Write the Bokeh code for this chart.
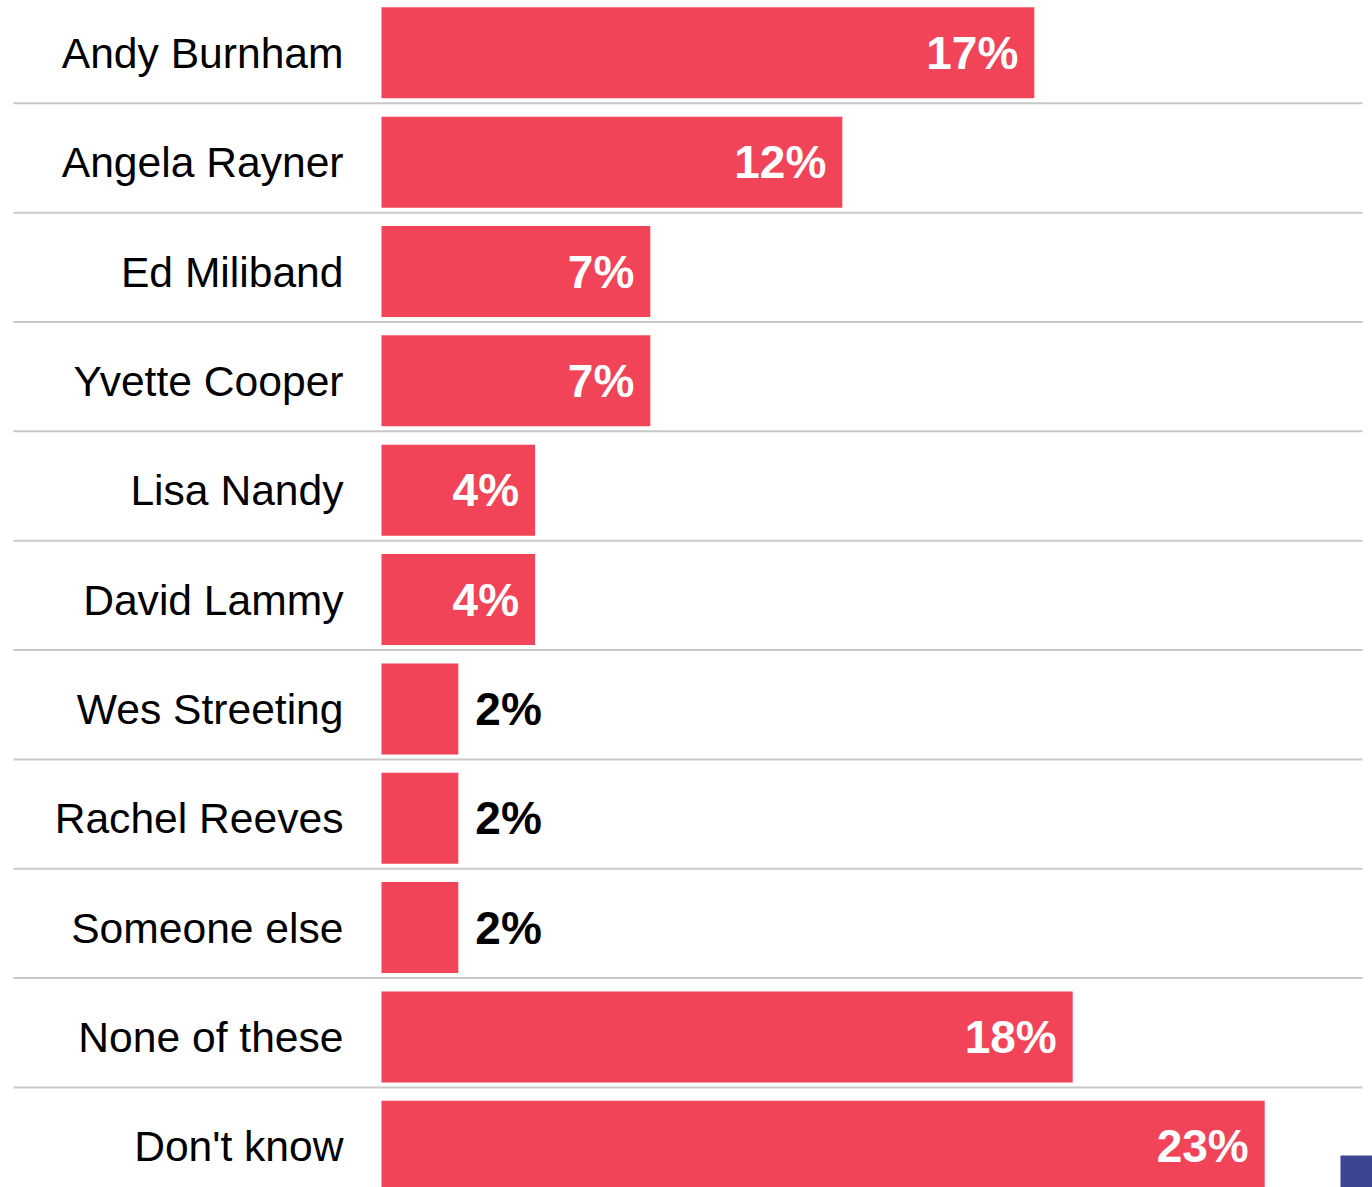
from bokeh.plotting import figure
from bokeh.models import Range1d, ColumnDataSource
from bokeh.core.properties import value
from bokeh.embed import file_html
from bokeh.resources import INLINE

# ---- data ----
candidates = ["Andy Burnham", "Angela Rayner", "Ed Miliband", "Yvette Cooper",
              "Lisa Nandy", "David Lammy", "Wes Streeting", "Rachel Reeves",
              "Someone else", "None of these", "Don't know"]
values = [17, 12, 7, 7, 4, 4, 2, 2, 2, 18, 23]

# ---- layout constants (pixels) ----
W, H = 1372, 1187
PX = 38.4          # px per percentage point
PY = 109.35        # px per row
X0_PX = 381.0      # figure px where 0% lies
Y0_PX = 52.3       # figure px of first row centre

def xd(px):
    return (px - X0_PX) / PX

def yd(py):
    return (py - Y0_PX) / PY

BAR_COLOR = "#f24458"
FONT = "Liberation Sans"

p = figure(width=W, height=H, output_backend="svg", toolbar_location=None,
           x_range=Range1d(xd(0), xd(W)), y_range=Range1d(yd(H), yd(0)),
           min_border=0, min_border_left=0, min_border_right=0,
           min_border_top=0, min_border_bottom=0)
p.xaxis.visible = False
p.yaxis.visible = False
p.grid.visible = False
p.outline_line_color = None
p.background_fill_color = "white"
p.border_fill_color = "white"

idx = list(range(len(candidates)))
src = ColumnDataSource(dict(y=idx, v=values, name=candidates))

# separators between rows
sep_y = [i + 0.462 for i in idx[:-1]]
p.segment(x0=[xd(13)] * len(sep_y), x1=[xd(1362)] * len(sep_y), y0=sep_y, y1=sep_y,
          line_color="#c8c8c8", line_width=2)

# bars
p.hbar(y="y", left=0, right="v", height=91 / PY, source=src,
       fill_color=BAR_COLOR, line_color=None)

# category labels
p.text(x=0, y="y", text="name", source=src, x_offset=-38,
       text_align="right", text_baseline="middle",
       text_font=value(FONT), text_font_size="42.6px", text_color="black")

# value labels
inside = [i for i in idx if values[i] >= 4]
outside = [i for i in idx if values[i] < 4]
src_in = ColumnDataSource(dict(y=inside, v=[values[i] for i in inside],
                               lab=[f"{values[i]}%" for i in inside]))
src_out = ColumnDataSource(dict(y=outside, v=[values[i] for i in outside],
                                lab=[f"{values[i]}%" for i in outside]))
p.text(x="v", y="y", text="lab", source=src_in, x_offset=-16,
       text_align="right", text_baseline="middle",
       text_font=value(FONT), text_font_style="bold", text_font_size="46px",
       text_color="white")
p.text(x="v", y="y", text="lab", source=src_out, x_offset=17,
       text_align="left", text_baseline="middle",
       text_font=value(FONT), text_font_style="bold", text_font_size="46px",
       text_color="black")

# small logo corner (decoration)
p.quad(left=[xd(1340)], right=[xd(1380)], top=[yd(1155)], bottom=[yd(1195)],
       fill_color="#3c4594", line_color=None)

open("out.html", "w").write(file_html(p, INLINE))
